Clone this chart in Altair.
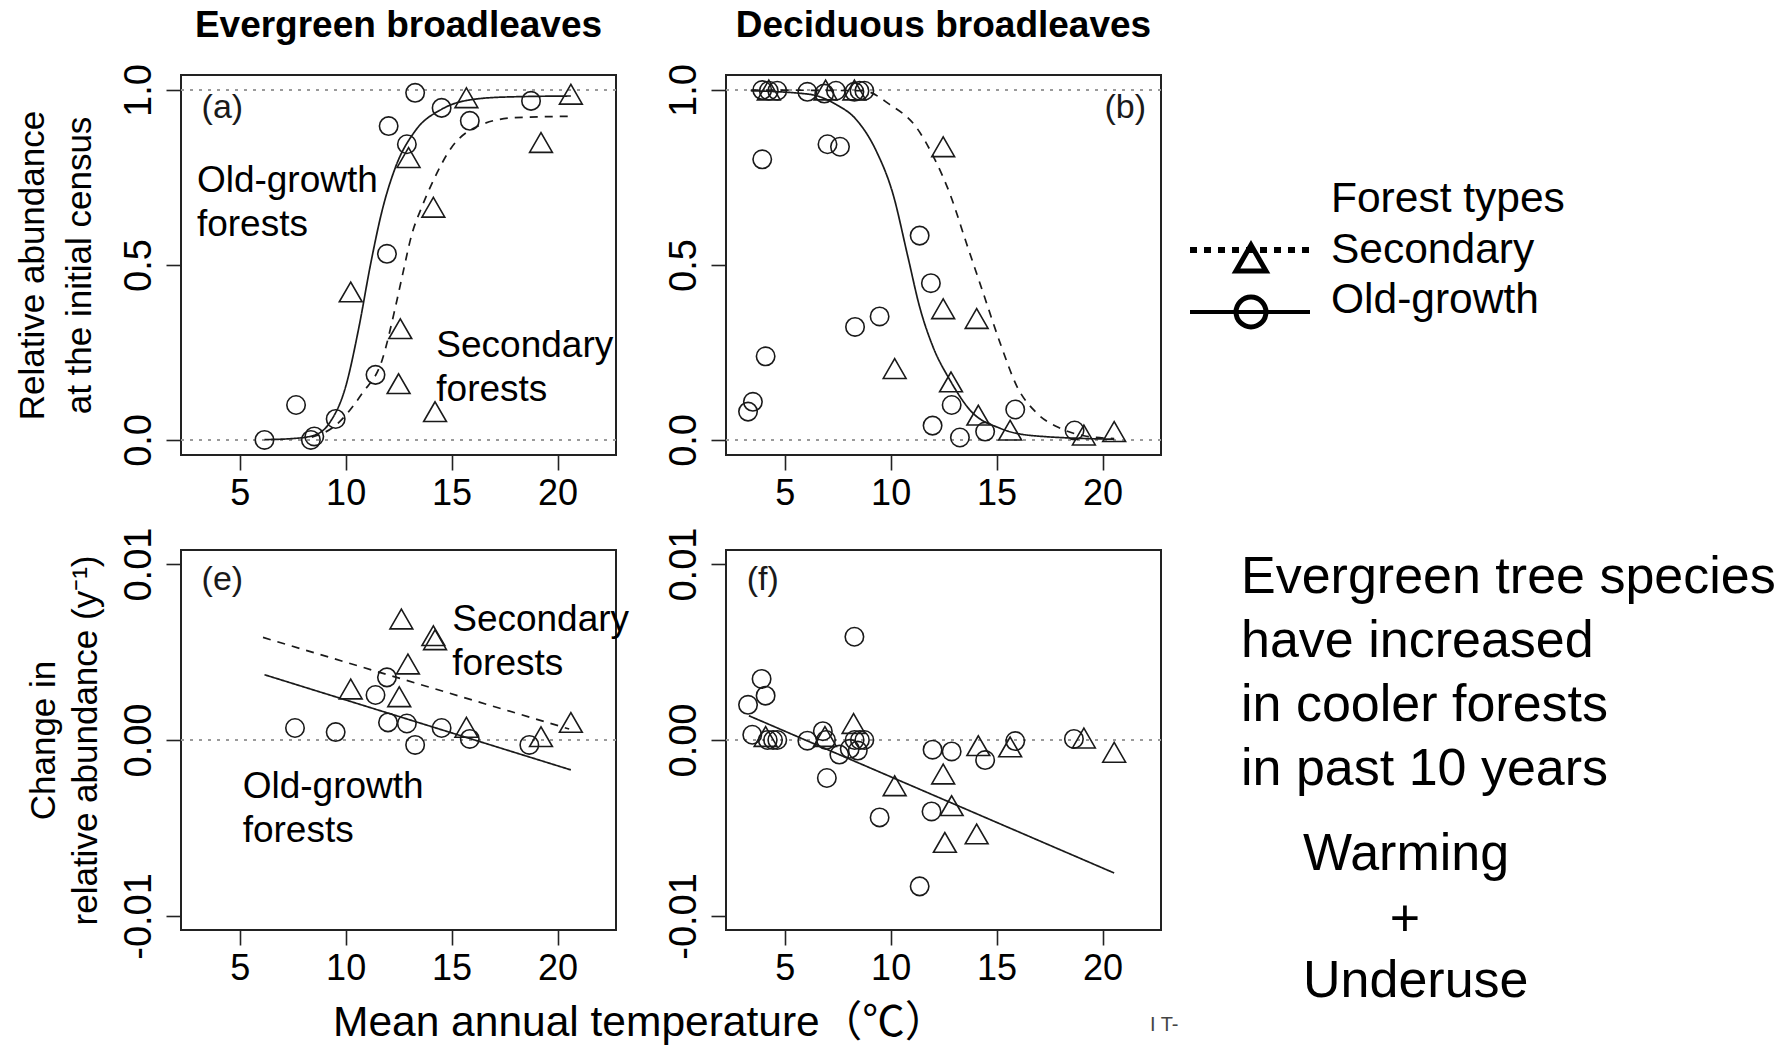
import altair as alt
import pandas as pd

FONT = "Liberation Sans, Arial, Helvetica, sans-serif"
FONT_CJK = "Liberation Sans, Arial, Noto Sans CJK JP, sans-serif"
INK = "#1a1a1a"

FOREST_TYPES = ["Secondary", "Old-growth"]
PANEL_TITLES = ["Evergreen broadleaves", "Deciduous broadleaves"]
PANEL_TAGS = ["(a)", "(b)", "(e)", "(f)"]

X_DOMAIN = [2.23, 22.76]
X_TICKS = [5, 10, 15, 20]
TOP_Y_DOMAIN = [-0.043, 1.043]
TOP_Y_TICKS = [0.0, 0.5, 1.0]
TOP_Y_LABELS = ["0.0", "0.5", "1.0"]
BOT_Y_DOMAIN = [-0.0108, 0.0108]
BOT_Y_TICKS = [-0.01, 0.0, 0.01]
BOT_Y_LABELS = ["-0.01", "0.00", "0.01"]

TOP_Y_TITLE = ["Relative abundance", "at the initial census"]
BOT_Y_TITLE = ["Change in", "relative abundance (y\u207b\u00b9)"]
X_TITLE = "Mean annual temperature\uff08\u2103\uff09"

# ---- panel (a): evergreen, initial abundance ----
A_OLD_X = [6.17, 7.66, 8.36, 8.52, 9.53, 11.41, 11.95, 12.03, 12.89, 13.28, 14.53, 15.86, 18.75]
A_OLD_Y = [0.0, 0.10, 0.0, 0.01, 0.06, 0.186, 0.532, 0.897, 0.845, 0.992, 0.949, 0.912, 0.969]
A_SEC_X = [10.24, 12.97, 12.58, 12.5, 14.14, 14.22, 15.7, 19.22, 20.63]
A_SEC_Y = [0.423, 0.807, 0.318, 0.161, 0.665, 0.081, 0.978, 0.85, 0.988]
A_OLD_FIT_X = [6.17, 7.5, 8.44, 9.22, 10.0, 10.63, 11.17, 11.72, 12.35, 13.28, 14.53, 15.78, 17.5, 20.63]
A_OLD_FIT_Y = [0.001, 0.004, 0.012, 0.047, 0.152, 0.323, 0.5, 0.655, 0.779, 0.883, 0.945, 0.971, 0.98, 0.983]
A_SEC_FIT_X = [8.4, 9.45, 10.78, 11.72, 12.35, 12.66, 13.13, 13.59, 14.06, 15.0, 16.25, 17.97, 20.63]
A_SEC_FIT_Y = [0.008, 0.038, 0.133, 0.228, 0.38, 0.465, 0.589, 0.665, 0.731, 0.836, 0.897, 0.921, 0.925]

# ---- panel (b): deciduous, initial abundance ----
B_OLD_X = [3.94, 4.25, 4.65, 6.07, 6.87, 7.42, 8.29, 8.53, 8.76, 3.94, 7.02, 7.61, 11.37, 11.9,
           9.48, 8.32, 4.1, 3.5, 3.27, 12.88, 11.98, 13.27, 14.46, 15.88, 18.68]
B_OLD_Y = [1.0, 0.998, 0.998, 0.995, 0.99, 0.998, 0.995, 0.998, 0.998, 0.802, 0.845, 0.838, 0.584, 0.448,
           0.353, 0.323, 0.239, 0.109, 0.081, 0.1, 0.041, 0.007, 0.024, 0.087, 0.027]
B_SEC_X = [4.25, 6.93, 8.29, 12.48, 12.48, 14.06, 10.19, 12.85, 14.14, 15.64, 19.12, 20.55]
B_SEC_Y = [1.0, 1.0, 1.0, 0.838, 0.375, 0.347, 0.204, 0.166, 0.071, 0.028, 0.014, 0.024]
B_OLD_FIT_X = [3.4, 6.15, 7.42, 8.37, 9.32, 10.11, 10.82, 11.37, 12.0, 12.8, 13.75, 15.18, 16.76, 20.55]
B_OLD_FIT_Y = [0.998, 0.988, 0.959, 0.916, 0.826, 0.703, 0.522, 0.38, 0.266, 0.171, 0.085, 0.033, 0.012, 0.002]
B_SEC_FIT_X = [3.4, 8.7, 9.95, 11.22, 12.0, 12.8, 13.59, 14.38, 15.18, 15.97, 16.91, 18.02, 19.12, 20.55]
B_SEC_FIT_Y = [1.0, 0.998, 0.959, 0.893, 0.812, 0.703, 0.56, 0.418, 0.275, 0.152, 0.076, 0.033, 0.012, 0.004]

# ---- panel (e): evergreen, change ----
E_OLD_X = [7.61, 9.53, 11.95, 11.41, 12.0, 12.89, 13.28, 14.53, 15.86, 18.67]
E_OLD_Y = [0.00068, 0.00045, 0.00356, 0.00256, 0.001, 0.00094, -0.00028, 0.00068, 0.00006, -0.00028]
E_SEC_X = [12.63, 14.14, 14.22, 12.94, 10.24, 12.53, 15.7, 19.22, 20.63]
E_SEC_Y = [0.00688, 0.00593, 0.0057, 0.00432, 0.0029, 0.00246, 0.00072, 0.00019, 0.001]
E_OLD_FIT_X = [6.17, 20.63]
E_OLD_FIT_Y = [0.00371, -0.0017]
E_SEC_FIT_X = [6.1, 20.55]
E_SEC_FIT_Y = [0.00583, 0.000625]

# ---- panel (f): deciduous, change ----
F_OLD_X = [8.29, 3.91, 4.1, 3.27, 3.47, 4.2, 4.45, 4.65, 6.07, 6.8, 6.95, 7.58, 8.07, 8.3, 8.55, 8.76,
           8.45, 6.99, 9.48, 11.93, 11.37, 11.98, 12.88, 14.46, 15.88, 18.65]
F_OLD_Y = [0.00587, 0.00347, 0.00252, 0.002, 0.0003, 0.0, 0.0, 0.0, -0.00004, 0.0005, 0.0, -0.00083, -0.0005,
           0.0, 0.0, 0.0, -0.0006, -0.00216, -0.0044, -0.00406, -0.00832, -0.00055, -0.00065, -0.00114,
           -0.00006, 0.00006]
F_SEC_X = [8.25, 4.1, 6.9, 10.19, 12.48, 12.88, 12.56, 14.06, 14.14, 15.64, 19.12, 20.55]
F_SEC_Y = [0.00094, 0.0002, 0.0002, -0.0026, -0.00193, -0.00373, -0.00582, -0.00534, -0.00032, -0.00039,
           0.00011, -0.0007]
F_OLD_FIT_X = [3.31, 20.55]
F_OLD_FIT_Y = [0.00138, -0.00756]

LEGEND_TITLE = "Forest types"
RIGHT_NOTE = "Evergreen tree species\nhave increased\nin cooler forests\nin past 10 years"
RIGHT_CAUSES = ["Warming", "+", "Underuse"]
STRAY_TEXT = "I T-"

PANEL_W, PANEL_H = 435, 380


def label_expr(ticks, labels):
    parts = [f"abs(datum.value - ({t})) < 0.000001 ? '{l}'" for t, l in zip(ticks, labels)]
    return " : ".join(parts) + " : ''"


def xenc():
    return alt.X(
        "x:Q",
        scale=alt.Scale(domain=X_DOMAIN, nice=False, zero=False),
        axis=alt.Axis(values=X_TICKS, format="d", labelPadding=6, labelBaseline="top",
                      labelFontSize=36, labelFlush=False, labelOverlap=False),
        title=None,
    )


def yenc(domain, ticks, labels, title, line_h, title_pad):
    kw = dict(values=ticks, labelExpr=label_expr(ticks, labels), labelAngle=270, labelAlign="center",
              labelBaseline="alphabetic", labelPadding=16, labelFontSize=38, labelFlush=False,
              labelOverlap=False)
    if title is not None:
        kw.update(titlePadding=title_pad, titleLineHeight=line_h)
        return alt.Y("y:Q", scale=alt.Scale(domain=domain, nice=False, zero=False),
                     axis=alt.Axis(**kw), title=title)
    return alt.Y("y:Q", scale=alt.Scale(domain=domain, nice=False, zero=False),
                 axis=alt.Axis(**kw), title=None)


def pts(xs, ys, kind):
    return pd.DataFrame({"x": xs, "y": ys, "type": kind})


def free_text(txt, px, py, size, align="left", font=FONT, line_h=None, weight="normal", color="black"):
    kw = dict(font=font, fontSize=size, align=align, baseline="alphabetic", color=color, fontWeight=weight)
    if line_h is not None:
        kw.update(lineBreak="\n", lineHeight=line_h)
    return alt.Chart(pd.DataFrame({"t": [txt]})).mark_text(**kw).encode(
        x=alt.value(px), y=alt.value(py), text="t:N")


def panel(title, yargs, ref_ys, sec_pts, old_pts, fits, notes, tag, tag_pos, tag_align, extra=()):
    X = xenc()
    Y = yenc(*yargs)
    layers = []
    layers.append(
        alt.Chart(pd.DataFrame({"y": ref_ys})).mark_rule(color="#9a9a9a", strokeWidth=2, strokeDash=[3, 6])
        .encode(y=Y)
    )
    for fx, fy, kind in fits:
        layers.append(
            alt.Chart(pts(fx, fy, kind)).mark_line(color=INK, strokeWidth=1.7, interpolate="monotone")
            .encode(x=X, y=Y,
                    strokeDash=alt.StrokeDash("type:N", scale=alt.Scale(domain=FOREST_TYPES,
                                                                       range=[[8, 7], [1, 0]]), legend=None))
        )
    layers.append(
        alt.Chart(pts(*old_pts, "Old-growth")).mark_point(shape="circle", size=340, filled=False,
                                                           strokeWidth=1.6, color=INK, opacity=1)
        .encode(x=X, y=Y)
    )
    layers.append(
        alt.Chart(pts(*sec_pts, "Secondary")).mark_point(shape="triangle-up", size=520, filled=False,
                                                          strokeWidth=1.6, color=INK, opacity=1)
        .encode(x=X, y=Y)
    )
    layers.append(
        alt.Chart(pd.DataFrame({"x": [tag_pos[0]], "y": [tag_pos[1]], "t": [tag]}))
        .mark_text(font=FONT, fontSize=34, align=tag_align, baseline="middle", color=INK)
        .encode(x=X, y=Y, text="t:N")
    )
    for nx, ny, txt in notes:
        layers.append(
            alt.Chart(pd.DataFrame({"x": [nx], "y": [ny], "t": [txt]}))
            .mark_text(font=FONT, fontSize=37, align="left", baseline="alphabetic", lineBreak="\n",
                       lineHeight=44, color="black")
            .encode(x=X, y=Y, text="t:N")
        )
    if title is not None:
        layers.append(free_text(title, PANEL_W / 2, -38, 37, align="center", weight="bold"))
    layers.extend(extra)
    return alt.layer(*layers).properties(width=PANEL_W, height=PANEL_H)


one = pd.DataFrame({"k": [0]})

legend_layers = [
    alt.Chart(one).mark_rule(color="black", strokeWidth=6, strokeDash=[7, 7])
    .encode(x=alt.value(464), x2=alt.value(584), y=alt.value(175)),
    alt.Chart(one).mark_point(shape="triangle-up", size=900, filled=False, strokeWidth=5, color="black",
                              opacity=1)
    .encode(x=alt.value(525), y=alt.value(183)),
    alt.Chart(one).mark_rule(color="black", strokeWidth=4)
    .encode(x=alt.value(464), x2=alt.value(584), y=alt.value(237)),
    alt.Chart(one).mark_point(shape="circle", size=900, filled=False, strokeWidth=5, color="black",
                              opacity=1)
    .encode(x=alt.value(525), y=alt.value(237)),
    free_text(LEGEND_TITLE, 605, 137, 42.5),
    free_text(FOREST_TYPES[0], 605, 188, 42.5),
    free_text(FOREST_TYPES[1], 605, 238, 42.5),
]

note_layers = [
    free_text(RIGHT_NOTE, 515, 43, 52, line_h=64),
    free_text(RIGHT_CAUSES[0], 577, 320, 52),
    free_text(RIGHT_CAUSES[1], 679, 386, 52, align="center"),
    free_text(RIGHT_CAUSES[2], 577, 447, 52),
    free_text(STRAY_TEXT, 424, 481, 20, color="#444444"),
]

xtitle_layers = [free_text(X_TITLE, 152, 486, 42.5, font=FONT_CJK)]

pa = panel(PANEL_TITLES[0], (TOP_Y_DOMAIN, TOP_Y_TICKS, TOP_Y_LABELS, TOP_Y_TITLE, 47, 23), [0.0, 1.0],
           (A_SEC_X, A_SEC_Y), (A_OLD_X, A_OLD_Y),
           [(A_OLD_FIT_X, A_OLD_FIT_Y, "Old-growth"), (A_SEC_FIT_X, A_SEC_FIT_Y, "Secondary")],
           [(2.98, 0.709, "Old-growth\nforests"), (14.28, 0.236, "Secondary\nforests")],
           PANEL_TAGS[0], (3.2, 0.949), "left")

pb = panel(PANEL_TITLES[1], (TOP_Y_DOMAIN, TOP_Y_TICKS, TOP_Y_LABELS, None, 47, 23), [0.0, 1.0],
           (B_SEC_X, B_SEC_Y), (B_OLD_X, B_OLD_Y),
           [(B_OLD_FIT_X, B_OLD_FIT_Y, "Old-growth"), (B_SEC_FIT_X, B_SEC_FIT_Y, "Secondary")],
           [], PANEL_TAGS[1], (22.05, 0.949), "right", extra=legend_layers)

pe = panel(None, (BOT_Y_DOMAIN, BOT_Y_TICKS, BOT_Y_LABELS, BOT_Y_TITLE, 42, 17), [0.0],
           (E_SEC_X, E_SEC_Y), (E_OLD_X, E_OLD_Y),
           [(E_OLD_FIT_X, E_OLD_FIT_Y, "Old-growth"), (E_SEC_FIT_X, E_SEC_FIT_Y, "Secondary")],
           [(15.03, 0.00621, "Secondary\nforests"), (5.14, -0.00328, "Old-growth\nforests")],
           PANEL_TAGS[2], (3.2, 0.0091), "left", extra=xtitle_layers)

pf = panel(None, (BOT_Y_DOMAIN, BOT_Y_TICKS, BOT_Y_LABELS, None, 42, 17), [0.0],
           (F_SEC_X, F_SEC_Y), (F_OLD_X, F_OLD_Y),
           [(F_OLD_FIT_X, F_OLD_FIT_Y, "Old-growth")],
           [], PANEL_TAGS[3], (3.21, 0.0091), "left", extra=note_layers)

chart = (
    alt.concat(pa, pb, pe, pf, columns=2, spacing={"row": 95, "column": 110}, bounds="flush")
    .properties(padding={"left": 14, "top": 6, "right": 0, "bottom": 0}, background="white")
    .configure_view(stroke="#222222", strokeWidth=2)
    .configure_axis(labelFont=FONT, labelFontSize=34, labelColor="black", tickColor="#222222",
                    tickSize=15, tickWidth=1.6, domain=False, grid=False, titleFont=FONT,
                    titleFontSize=35, titleFontWeight="normal", titleColor="black")
)

chart.save("out.html", embed_options={"renderer": "svg", "actions": False})
